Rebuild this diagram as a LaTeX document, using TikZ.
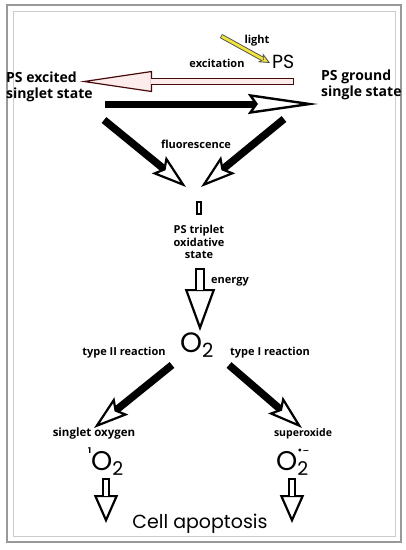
\documentclass[tikz,border=0pt]{standalone}
\usepackage{fontspec}
\setmainfont{Open Sans}
\newfontfamily\geofont{Poppins}
\newfontfamily\symfont{DejaVu Sans}
\usetikzlibrary{arrows.meta}

\definecolor{rayyellow}{RGB}{240,228,60}
\definecolor{exred}{RGB}{70,10,10}
\definecolor{expink}{RGB}{253,236,236}

\begin{document}
\begin{tikzpicture}[x=1pt,y=-1pt]
\tikzset{
  lbl/.style={font=\fontsize{11}{12.5}\selectfont\bfseries,inner sep=0pt},
  statelbl/.style={font=\fontsize{14}{16}\selectfont\bfseries,align=left,inner sep=0pt},
  oxylbl/.style={font=\fontsize{28}{30}\selectfont\geofont,inner sep=0pt},
  framebox/.style={draw=black!40,line width=2.5pt},
  frameinner/.style={draw=black!20,line width=1pt},
  raybody/.style={draw=black!70,line width=4.6pt,-{Stealth[fill=rayyellow,line width=0.8pt,length=11pt,width=10pt,inset=3pt]}},
  raycore/.style={draw=rayyellow,line width=2.8pt,shorten <=0.8pt,shorten >=8pt},
  exbody/.style={draw=exred,line width=7pt,-{Triangle[fill=expink,line width=1.2pt,length=72pt,width=21pt]}},
  excore/.style={draw=expink,line width=4.6pt,shorten <=1.2pt,shorten >=71.2pt},
  bigblack/.style={draw=black,line width=7pt,-{Stealth[fill=white,line width=2.4pt,length=70pt,width=20pt,inset=7pt]}},
  fatblack/.style={draw=black,line width=7.5pt,-{Stealth[fill=white,line width=2.2pt,length=35pt,width=22pt,inset=6pt]}},
  enbody/.style={draw=black,line width=10pt,-{Triangle[fill=white,line width=2.2pt,length=42pt,width=30pt]}},
  encore/.style={draw=white,line width=5.6pt,shorten <=2.2pt,shorten >=41pt},
  downbody/.style={draw=black,line width=8pt,-{Triangle[fill=white,line width=2.2pt,length=28pt,width=24pt]}},
  downcore/.style={draw=white,line width=3.6pt,shorten <=2.2pt,shorten >=27pt},
  tripbox/.style={draw=black,line width=2pt,minimum width=4pt,minimum height=12pt,inner sep=0pt}
}
\useasboundingbox (0,0) rectangle (406,550);
% frame
\draw[frameinner] (13,11) rectangle (395,536);
\draw[framebox] (7,5) rectangle (401,542);

% texts
\node[lbl,anchor=base] (light) at (257,43) {light};
\node[oxylbl,font=\fontsize{19}{21}\selectfont\geofont,anchor=base west] (ps) at (272,68) {PS};
\node[lbl,anchor=base] (excit) at (217,67) {excitation};
\node[statelbl,anchor=west] (excited) at (6,87) {PS excited\\singlet state};
\node[statelbl,anchor=west] (ground) at (321,85) {PS ground\\single state};
\node[lbl,anchor=base] (fluo) at (196,148) {fluorescence};
\node[tripbox] (trip) at (199,208) {};
\node[lbl,align=center] (triplet) at (199,242) {PS triplet\\oxidative\\state};
\node[lbl,anchor=base] (energy) at (230,283) {energy};
\node[oxylbl,anchor=base west] (o2) at (180,352) {O\textsubscript{2}};
\node[lbl,anchor=base] (type2) at (124,355) {type II reaction};
\node[lbl,anchor=base] (type1) at (270,355) {type I reaction};
\node[lbl,anchor=base,font=\fontsize{11.5}{13}\selectfont\bfseries] (singlet) at (94,436) {singlet oxygen};
\node[lbl,anchor=base,font=\fontsize{10.5}{12}\selectfont\bfseries] (superox) at (303,436) {superoxide};
\node[oxylbl,font=\fontsize{27}{29}\selectfont\geofont,anchor=base west] (sox) at (88,470) {\raisebox{0.6em}{\fontsize{8}{8}\selectfont\bfseries 1}O\textsubscript{2}};
\node[oxylbl,font=\fontsize{27}{29}\selectfont\geofont,anchor=base west] (supox) at (276,470) {O\rlap{\raisebox{0.62em}{\fontsize{8}{8}\selectfont\symfont\bfseries •−}}\textsubscript{2}};
\node[oxylbl,font=\fontsize{19}{21}\selectfont\geofont,anchor=base] (apop) at (200,528) {Cell apoptosis};

% arrow ends
\coordinate (raysrc) at (221,36);
\coordinate (raytip) at (270,63);
\coordinate (extail) at (294,81.5);
\coordinate (extip) at (80,81.5);
\coordinate (gstail) at (105,104);
\coordinate (gstip) at (318,104);
\coordinate (fla) at (104,120);
\coordinate (flb) at (284,119);
\coordinate (fltipa) at (186,187);
\coordinate (fltipb) at (201,187);
\coordinate (entail) at (200,268);
\coordinate (entip) at (200,331);
\coordinate (ta) at (172,365);
\coordinate (tb) at (229,365);
\coordinate (tatip) at (94,428);
\coordinate (tbtip) at (302,428);
\coordinate (dla) at (106,478);
\coordinate (dlatip) at (106,523);
\coordinate (dlb) at (292,478);
\coordinate (dlbtip) at (292,523);

% arrows
\draw[raybody] (raysrc) -- (raytip);
\draw[raycore] (raysrc) -- (raytip);
\draw[exbody] (extail) -- (extip);
\draw[excore] (extail) -- (extip);
\draw[bigblack] (gstail) -- (gstip);
\draw[fatblack] (fla) -- (fltipa);
\draw[fatblack] (flb) -- (fltipb);
\draw[enbody] (entail) -- (entip);
\draw[encore] (entail) -- (entip);
\draw[fatblack] (ta) -- (tatip);
\draw[fatblack] (tb) -- (tbtip);
\draw[downbody] (dla) -- (dlatip);
\draw[downcore] (dla) -- (dlatip);
\draw[downbody] (dlb) -- (dlbtip);
\draw[downcore] (dlb) -- (dlbtip);
\end{tikzpicture}
\end{document}
